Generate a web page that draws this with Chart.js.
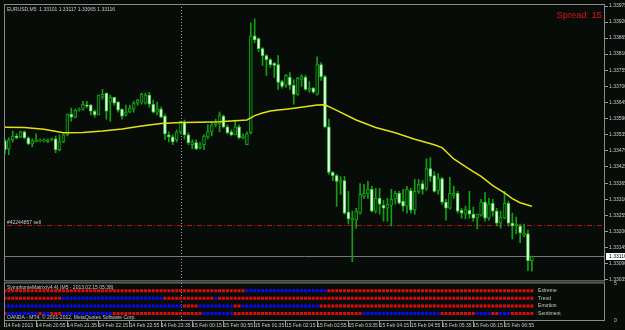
<!DOCTYPE html>
<html>
<head>
<meta charset="utf-8">
<script src="https://cdn.jsdelivr.net/npm/chart.js@4"></script>
<style>
  html, body { margin: 0; padding: 0; background: #080c09; }
  canvas { display: block; }
</style>
</head>
<body>
<canvas id="chart" width="625" height="330"></canvas>
<script>
// EURUSD M5, 14 Feb 2013 20:15 -> 15 Feb 2013 07:30 (one value per bar)
const opens = [1.33512,1.33485,1.33516,1.33529,1.33526,1.33543,1.33523,1.33502,1.33509,1.33512,
  1.33512,1.33509,1.33516,1.33519,1.33482,1.33509,1.33533,1.33604,1.33594,1.33618,
  1.33621,1.33635,1.33635,1.33614,1.33601,1.33662,1.33676,1.33645,1.33662,1.33645,
  1.33621,1.33601,1.33611,1.33621,1.33642,1.33645,1.33642,1.33669,1.33638,1.33611,
  1.33621,1.33597,1.33533,1.33526,1.33516,1.33543,1.33577,1.33533,1.33499,1.33506,
  1.33489,1.33499,1.33526,1.33543,1.33567,1.33570,1.33597,1.33560,1.33543,1.33533,
  1.33560,1.33523,1.33499,1.33540,1.33873,1.33863,1.33829,1.33805,1.33791,1.33778,
  1.33774,1.33716,1.33703,1.33730,1.33703,1.33672,1.33723,1.33730,1.33686,1.33693,
  1.33672,1.33774,1.33733,1.33560,1.33404,1.33393,1.33370,1.33376,1.33268,1.33240,
  1.33240,1.33264,1.33322,1.33332,1.33346,1.33271,1.33315,1.33291,1.33281,1.33291,
  1.33312,1.33332,1.33305,1.33288,1.33342,1.33274,1.33339,1.33366,1.33349,1.33417,
  1.33393,1.33342,1.33383,1.33302,1.33281,1.33325,1.33332,1.33274,1.33261,1.33274,
  1.33261,1.33247,1.33257,1.33302,1.33247,1.33298,1.33271,1.33230,1.33247,1.33298,
  1.33230,1.33220,1.33220,1.33189,1.33193,1.33101];
const highs = [1.33519,1.33523,1.33546,1.33536,1.33546,1.33546,1.33526,1.33519,1.33536,1.33519,
  1.33519,1.33519,1.33523,1.33529,1.33533,1.33536,1.33604,1.33625,1.33621,1.33625,
  1.33648,1.33648,1.33638,1.33618,1.33669,1.33689,1.33676,1.33669,1.33662,1.33648,
  1.33621,1.33635,1.33635,1.33648,1.33655,1.33676,1.33676,1.33679,1.33652,1.33645,
  1.33628,1.33604,1.33543,1.33533,1.33550,1.33580,1.33584,1.33540,1.33516,1.33516,
  1.33506,1.33533,1.33567,1.33577,1.33587,1.33611,1.33601,1.33567,1.33550,1.33584,
  1.33567,1.33536,1.33543,1.33917,1.33931,1.33866,1.33832,1.33808,1.33795,1.33781,
  1.33805,1.33720,1.33740,1.33747,1.33723,1.33730,1.33740,1.33737,1.33716,1.33696,
  1.33801,1.33781,1.33737,1.33587,1.33407,1.33397,1.33390,1.33390,1.33339,1.33271,
  1.33281,1.33366,1.33363,1.33373,1.33356,1.33349,1.33349,1.33308,1.33315,1.33346,
  1.33339,1.33339,1.33346,1.33356,1.33349,1.33380,1.33380,1.33376,1.33451,1.33455,
  1.33407,1.33400,1.33387,1.33312,1.33387,1.33356,1.33339,1.33281,1.33288,1.33339,
  1.33285,1.33261,1.33312,1.33336,1.33315,1.33312,1.33281,1.33271,1.33339,1.33305,
  1.33264,1.33251,1.33227,1.33227,1.33206,1.33117];
const lows = [1.33468,1.33465,1.33509,1.33519,1.33523,1.33519,1.33499,1.33492,1.33509,1.33509,
  1.33509,1.33506,1.33512,1.33472,1.33478,1.33506,1.33529,1.33580,1.33591,1.33614,
  1.33618,1.33625,1.33601,1.33594,1.33601,1.33655,1.33587,1.33580,1.33635,1.33611,
  1.33587,1.33597,1.33608,1.33611,1.33635,1.33638,1.33638,1.33628,1.33608,1.33601,
  1.33591,1.33516,1.33509,1.33499,1.33509,1.33536,1.33519,1.33499,1.33485,1.33482,
  1.33485,1.33482,1.33519,1.33529,1.33560,1.33543,1.33557,1.33536,1.33529,1.33533,
  1.33519,1.33519,1.33499,1.33536,1.33849,1.33818,1.33771,1.33737,1.33764,1.33730,
  1.33689,1.33693,1.33696,1.33689,1.33638,1.33669,1.33699,1.33686,1.33679,1.33676,
  1.33669,1.33720,1.33557,1.33397,1.33376,1.33288,1.33329,1.33261,1.33227,1.33098,
  1.33213,1.33261,1.33315,1.33315,1.33268,1.33264,1.33261,1.33237,1.33237,1.33220,
  1.33295,1.33295,1.33271,1.33264,1.33264,1.33261,1.33332,1.33329,1.33342,1.33373,
  1.33336,1.33329,1.33295,1.33240,1.33278,1.33315,1.33264,1.33247,1.33244,1.33247,
  1.33237,1.33210,1.33254,1.33237,1.33240,1.33254,1.33220,1.33213,1.33244,1.33220,
  1.33176,1.33193,1.33163,1.33183,1.33067,1.33065];
const closes = [1.33482,1.33516,1.33529,1.33523,1.33543,1.33523,1.33502,1.33512,1.33516,1.33516,
  1.33516,1.33516,1.33519,1.33482,1.33509,1.33533,1.33604,1.33594,1.33618,1.33621,
  1.33638,1.33631,1.33614,1.33601,1.33669,1.33672,1.33614,1.33662,1.33642,1.33618,
  1.33597,1.33611,1.33625,1.33642,1.33652,1.33672,1.33669,1.33638,1.33611,1.33621,
  1.33594,1.33536,1.33526,1.33509,1.33543,1.33577,1.33533,1.33506,1.33509,1.33485,
  1.33499,1.33529,1.33543,1.33567,1.33574,1.33601,1.33560,1.33540,1.33533,1.33560,
  1.33523,1.33529,1.33536,1.33873,1.33859,1.33829,1.33805,1.33791,1.33774,1.33771,
  1.33713,1.33699,1.33737,1.33703,1.33672,1.33727,1.33733,1.33689,1.33693,1.33679,
  1.33774,1.33733,1.33560,1.33404,1.33393,1.33373,1.33376,1.33264,1.33244,1.33247,
  1.33271,1.33329,1.33332,1.33346,1.33271,1.33315,1.33295,1.33281,1.33295,1.33312,
  1.33332,1.33298,1.33288,1.33346,1.33274,1.33339,1.33363,1.33346,1.33417,1.33390,
  1.33339,1.33383,1.33302,1.33281,1.33332,1.33332,1.33271,1.33264,1.33278,1.33261,
  1.33247,1.33261,1.33302,1.33247,1.33295,1.33271,1.33230,1.33251,1.33298,1.33230,
  1.33220,1.33227,1.33196,1.33196,1.33101,1.33116];

// yellow moving average, read at these bars
const maBars = [0,5,10,15,20,25,30,35,40,45,50,55,60,62,63,64,66,68,70,72,75,80,82,85,
  90,95,100,105,110,112,115,118,120,122,125,128,130,132,135];
const maValues = [1.33559,1.33558,1.33552,1.33540,1.33541,1.33546,1.33553,1.33563,1.33572,1.33575,
  1.33576,1.33578,1.33582,1.33584,1.33591,1.33599,1.33608,1.33615,1.33618,1.33621,
  1.33626,1.33635,1.33636,1.33617,1.33584,1.33558,1.33540,1.33518,1.33499,1.33489,
  1.33450,1.33424,1.33407,1.33390,1.33359,1.33334,1.33314,1.33300,1.33288];

// time axis
const tickBars = [0,8,16,24,32,40,48,56,64,72,80,88,96,104,112,120,128];
const tickLabels = ['14 Feb 2013','14 Feb 20:55','14 Feb 21:35','14 Feb 22:15','14 Feb 22:55',
  '14 Feb 23:35','15 Feb 00:15','15 Feb 00:55','15 Feb 01:35','15 Feb 02:15','15 Feb 02:55',
  '15 Feb 03:35','15 Feb 04:15','15 Feb 04:55','15 Feb 05:35','15 Feb 06:15','15 Feb 06:55'];
const priceTicks = [1.33975,1.33920,1.33865,1.33810,1.33755,1.33700,1.33645,1.33590,1.33535,
  1.33479,1.33425,1.33365,1.33310,1.33255,1.33200,1.33145,1.33090,1.33035];
const daySeparatorBar = 45;
const bidPrice = 1.33116;
const orderPrice = 1.33222;
const orderLabel = '#42244857 sell';
const header = 'EURUSD,M5  1.33101 1.33117 1.33065 1.33116';
const spreadText = 'Spread: 15';

// SymphonieMatrix rows, r = red, b = blue, one letter per bar
const rowNames = ['Extreme', 'Trend', 'Emotion', 'Sentiment'];
const rowLevels = [4, 3, 2, 1];
const extremeRow = 'rrrrrrrrrr rrrrrrrrrr rrrrrrrrrr rrrrrrrrrr rrrrrrrrrr rrrrrrrrrr rrbbbbbbbb bbbbbbbbbb bbbrrrrrrr rrrrrrrrrr rrrrrrrrrr rrrrrrrrrr rrrrrrrrrr rrrrrr';
const trendRow = 'rrrrrrrrrr rrrrrbbbbb bbbbbbbbbb bbbbbbbbbb brrrrrrrrr rrrrbrrrrr rrrrrrrrrr rrrrrrrrrr rrrrrrrrrr rrrrrrrrrr rrrrrrrrrr rrrrrrrrrr rrrrrrrrrr rrrrrr';
const emotionRow = 'bbbbbbbbbb bbbbbbbbbb bbbbbbbbbb bbbbbbbbbb bbbbbbrrrr bbbbbbbbbr rbbbbbbbbb bbbbbbbbbb brrrrrrrrr rrrrrrrrrr rrrrrrrrrr rrrrrrrrrr rrrrrrrrrr rrrrrr';
const sentimentRow = 'rbbbbbbbbr bbrrrbbbbb bbbbbbbbrr rrrrrrrrrr rrrrrrrrrr rbbbbbbbbr rrrrrrrrrr rrrrrrrrrr rrrrrrrrrr rrbbbbbbbb bbbbbbbbbb bbrrrrrrrr rbbbbrrbbb rrrrrr';
const rows = [extremeRow, trendRow, emotionRow, sentimentRow].map(s => s.replace(/ /g, ''));

const tinyFamily = '"Liberation Sans", Arial, sans-serif';
const textGrey = '#c8c8c8';
const isBear = i => closes[i] < opens[i];

const rowDatasets = rows.map((row, r) => ({
  type: 'scatter',
  yAxisID: 'y2',
  data: row.split('').map((c, i) => ({ x: i, y: rowLevels[r] })),
  pointStyle: 'rect',
  pointRadius: 2.1,
  borderWidth: 0,
  backgroundColor: ctx => row[ctx.dataIndex] === 'b' ? '#0a0aee' : '#dd0c0c',
  order: 4
}));

const overlay = {
  id: 'overlay',
  beforeDraw(chart) {
    const c = chart.ctx;
    c.save();
    c.fillStyle = '#080c09';
    c.fillRect(0, 0, chart.width, chart.height);
    c.restore();
  },
  beforeDatasetsDraw(chart) {
    const { ctx, scales: { x, y, y2 } } = chart;
    ctx.save();
    ctx.lineWidth = 1;
    // bid line
    const by = Math.round(y.getPixelForValue(bidPrice)) + 0.5;
    ctx.strokeStyle = '#77787c';
    ctx.beginPath(); ctx.moveTo(x.left, by); ctx.lineTo(x.right, by); ctx.stroke();
    // open order
    const oy = Math.round(y.getPixelForValue(orderPrice)) + 0.5;
    ctx.strokeStyle = '#b41414';
    ctx.setLineDash([5, 2, 1, 2]);
    ctx.beginPath(); ctx.moveTo(x.left + 3, oy); ctx.lineTo(x.right, oy); ctx.stroke();
    // day separator
    const sx = Math.round(x.getPixelForValue(daySeparatorBar)) + 0.5;
    ctx.strokeStyle = '#9a9a9a';
    ctx.setLineDash([1, 2]);
    ctx.beginPath(); ctx.moveTo(sx, y.top); ctx.lineTo(sx, y2.bottom); ctx.stroke();
    ctx.restore();
  },
  afterDraw(chart) {
    const { ctx, scales: { x, y, y2 } } = chart;
    ctx.save();
    // panel frames
    ctx.strokeStyle = '#8a8a8a';
    ctx.lineWidth = 1;
    ctx.strokeRect(x.left + 0.5, y.top + 0.5, x.right - x.left - 1, y.bottom - y.top - 1);
    ctx.strokeRect(x.left + 0.5, y2.top + 1.5, x.right - x.left - 1, y2.bottom - y2.top - 2);

    ctx.fillStyle = textGrey;
    ctx.font = '5px ' + tinyFamily;
    ctx.textBaseline = 'middle';
    ctx.textAlign = 'left';
    ctx.fillText(header, x.left + 3, y.top + 6);
    ctx.fillText(orderLabel, x.left + 3, y.getPixelForValue(orderPrice) - 3);
    ctx.fillText('SymphonieMatrix(v4.4) (M5 - 2013.02.15 05:38)', x.left + 3, y2.top + 6);
    ctx.fillText('OANDA - MT4, \u00a9 2001-2012, MetaQuotes Software Corp.', x.left + 3, y2.bottom - 3);
    rowNames.forEach((n, r) => {
      ctx.fillText(n, x.getPixelForValue(136.6), y2.getPixelForValue(rowLevels[r]));
    });

    // spread
    ctx.fillStyle = '#e01212';
    ctx.font = '9.3px "Liberation Sans", Arial, sans-serif';
    ctx.textAlign = 'right';
    ctx.textBaseline = 'alphabetic';
    ctx.fillText(spreadText, x.right - 3, y.top + 14);

    // bid price box on the axis
    const by = y.getPixelForValue(bidPrice);
    ctx.fillStyle = '#ffffff';
    ctx.fillRect(x.right + 1, Math.round(by) - 3, chart.width - x.right, 7);
    ctx.fillStyle = '#000000';
    ctx.font = '5px ' + tinyFamily;
    ctx.textAlign = 'left';
    ctx.textBaseline = 'middle';
    ctx.fillText(bidPrice.toFixed(5), x.right + 4, by + 0.5);
    ctx.restore();
  }
};

new Chart(document.getElementById('chart'), {
  type: 'bar',
  data: {
    datasets: [
      {
        type: 'line',
        data: maBars.map((b, i) => ({ x: b, y: maValues[i] })),
        borderColor: '#e2e212',
        borderWidth: 1.5,
        pointRadius: 0,
        tension: 0,
        order: 1
      },
      {
        label: 'body',
        data: opens.map((o, i) => ({ x: i, y: [o, closes[i]] })),
        backgroundColor: ctx => isBear(ctx.dataIndex) ? '#f2fff2' : '#06280a',
        borderColor: ctx => isBear(ctx.dataIndex) ? '#3acc3a' : '#14a014',
        borderWidth: 1,
        borderSkipped: false,
        barThickness: 3,
        minBarLength: 1,
        grouped: false,
        order: 2
      },
      {
        label: 'wick',
        data: lows.map((l, i) => ({ x: i, y: [l, highs[i]] })),
        backgroundColor: '#12a012',
        barThickness: 1,
        minBarLength: 1,
        grouped: false,
        order: 3
      },
      ...rowDatasets
    ]
  },
  options: {
    responsive: false,
    animation: false,
    layout: { padding: { left: 1, top: 1, right: 0, bottom: 0 } },
    plugins: { legend: { display: false }, tooltip: { enabled: false } },
    scales: {
      x: {
        type: 'linear',
        offset: false,
        min: -0.23,
        max: 153.74,
        afterBuildTicks: s => { s.ticks = tickBars.map(v => ({ value: v })); },
        afterFit: s => { s.height = 9; },
        ticks: {
          autoSkip: false,
          maxRotation: 0,
          align: 'start',
          padding: -4,
          color: textGrey,
          font: { family: tinyFamily, size: 5 },
          callback: v => tickLabels[tickBars.indexOf(v)]
        },
        grid: { drawOnChartArea: false, offset: false, color: '#9a9a9a', tickLength: 6 },
        border: { display: false }
      },
      y: {
        position: 'right',
        stack: 'panes',
        stackWeight: 280,
        min: 1.33030,
        max: 1.33982,
        afterBuildTicks: s => { s.ticks = priceTicks.map(v => ({ value: v })); },
        afterFit: s => { s.width = 20; },
        ticks: {
          autoSkip: false,
          padding: 1,
          color: textGrey,
          font: { family: tinyFamily, size: 5 },
          callback: v => v.toFixed(5)
        },
        grid: { drawOnChartArea: false, color: '#9a9a9a', tickLength: 3 },
        border: { display: false }
      },
      y2: {
        position: 'right',
        stack: 'panes',
        stackWeight: 40,
        min: 0,
        max: 5.25,
        afterBuildTicks: s => { s.ticks = [{ value: 5 }, { value: 0 }]; },
        afterFit: s => { s.width = 20; },
        ticks: {
          padding: 1,
          color: textGrey,
          font: { family: tinyFamily, size: 5 }
        },
        grid: { drawOnChartArea: false, display: false },
        border: { display: false }
      }
    }
  },
  plugins: [overlay]
});
</script>
</body>
</html>
